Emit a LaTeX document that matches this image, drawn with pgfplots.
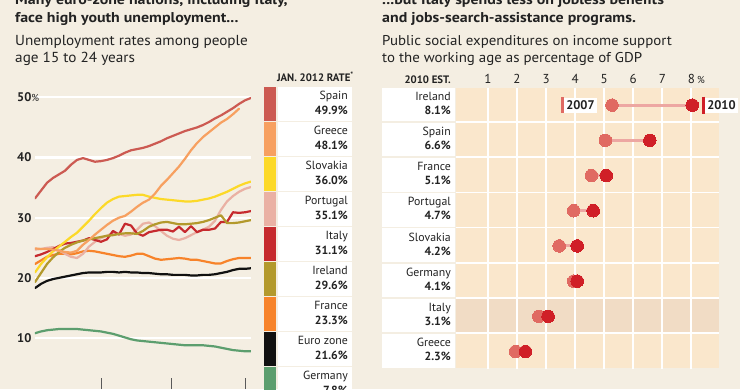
\documentclass[border=0pt]{standalone}
\usepackage{pgfplots}
\usepackage{pgfplotstable}
\pgfplotsset{compat=1.18}
\usepackage{fontspec}
\setmainfont{PT Sans}
\newfontfamily\titlefont{PT Sans}[FakeStretch=1.12]
\newfontfamily\subfont{PT Sans}[FakeStretch=1.05]
\definecolor{bg}{HTML}{F4EEE2}
\definecolor{txt}{HTML}{222222}
\definecolor{spain}{HTML}{CC5A52}
\definecolor{greece}{HTML}{F7A060}
\definecolor{slovakia}{HTML}{FCD928}
\definecolor{portugal}{HTML}{EAB1A4}
\definecolor{italy}{HTML}{C62A2E}
\definecolor{ireland}{HTML}{B3992C}
\definecolor{france}{HTML}{F7832A}
\definecolor{euro}{HTML}{111111}
\definecolor{germany}{HTML}{5C9E6E}
\definecolor{band}{HTML}{FAE7CC}
\definecolor{bandit}{HTML}{F1DCC5}
\definecolor{dA}{HTML}{E06A62}
\definecolor{dB}{HTML}{D01F27}
\definecolor{conn}{HTML}{EDA7A2}

\pgfplotstableread{
m spain greece slovakia portugal italy ireland france euro germany
0 33.2 24.9 20.9 24.7 23.6 19.3 22.3 18.3 10.8
1 34.5 24.8 22.3 24.8 23.9 20.8 22.9 19.0 11.1
2 35.8 24.8 23.4 25.0 24.3 22.3 23.5 19.5 11.3
3 36.6 24.7 24.4 25.1 24.8 23.4 23.8 19.8 11.4
4 37.2 24.5 25.2 24.6 25.3 24.3 24.0 20.0 11.5
5 37.8 24.3 26.0 24.0 25.7 25.0 24.0 20.2 11.5
6 38.8 24.2 26.8 23.5 25.8 25.5 23.9 20.4 11.5
7 39.6 24.5 27.5 23.3 26.0 25.9 24.1 20.6 11.5
8 39.9 25.5 28.5 24.0 26.2 26.2 24.4 20.8 11.4
9 39.6 26.3 29.5 25.2 26.6 26.4 24.5 20.9 11.3
10 39.3 27.2 30.6 26.0 26.3 26.6 24.4 20.9 11.2
11 39.4 28.0 31.6 26.6 26.0 26.8 24.2 20.9 11.1
12 39.6 28.8 32.5 27.0 26.4 27.0 24.0 21.0 10.9
13 39.9 29.5 33.1 27.5 27.8 27.1 23.8 21.0 10.7
14 40.3 30.0 33.5 27.3 27.2 27.3 23.6 20.9 10.4
15 40.8 30.3 33.6 27.0 29.0 27.4 23.5 21.0 10.1
16 41.2 31.0 33.7 27.2 28.7 27.4 23.7 20.9 9.8
17 41.4 31.8 33.8 28.0 27.4 27.3 24.0 20.9 9.6
18 41.6 32.5 33.8 29.0 27.0 27.8 24.0 20.8 9.5
19 41.9 33.0 33.5 29.2 27.6 28.5 23.6 20.8 9.4
20 42.3 34.0 33.3 28.6 27.8 28.9 23.2 20.7 9.3
21 42.7 35.3 33.1 27.8 28.0 29.2 23.0 20.6 9.2
22 43.2 36.3 33.0 27.0 28.0 29.3 23.1 20.6 9.1
23 43.6 37.4 32.9 26.5 27.7 29.1 23.2 20.5 9.0
24 44.0 38.5 32.8 26.3 28.5 28.9 23.3 20.5 8.9
25 44.4 39.8 32.7 26.6 27.6 28.9 23.2 20.5 8.8
26 44.7 41.2 32.7 27.1 28.6 29.0 23.0 20.4 8.8
27 45.0 42.4 32.8 27.6 27.6 29.1 23.0 20.4 8.8
28 45.4 43.4 33.0 28.0 28.0 29.3 22.8 20.5 8.8
29 45.9 44.2 33.2 28.5 28.0 29.6 22.6 20.5 8.7
30 46.5 45.0 33.5 29.5 28.2 30.0 22.4 20.6 8.6
31 47.0 45.8 33.9 31.3 29.3 30.4 22.4 20.8 8.4
32 47.6 46.4 34.3 32.7 29.3 29.1 22.8 21.0 8.2
33 48.2 47.2 34.8 33.6 30.9 29.1 23.1 21.3 8.0
34 48.9 48.1 35.3 34.3 30.8 29.2 23.3 21.5 7.9
35 49.5 nan 35.7 34.8 30.9 29.4 23.3 21.5 7.8
36 49.9 nan 36.0 35.1 31.1 29.6 23.3 21.6 7.8
}\youth

\pgfplotstableread{
row y07 y10
0 5.27 8.03
1 5.04 6.57
2 4.56 5.07
3 3.95 4.62
4 3.45 4.07
5 3.95 4.07
6 2.75 3.07
7 1.95 2.29
}\spend

\begin{document}
\begin{tikzpicture}
\useasboundingbox (0,0) rectangle (740pt,-389pt);
\clip (0,0) rectangle (740pt,-389pt);
\fill[bg] (0,0) rectangle (740pt,-389pt);
\begin{scope}[x=1pt,y=-1pt]
  % ---- titles
  \node[anchor=base west, inner sep=0, text=txt, font=\titlefont\fontsize{14.2}{15}\selectfont\bfseries] at (15,4) {Many euro-zone nations, including Italy,};
  \node[anchor=base west, inner sep=0, text=txt, font=\titlefont\fontsize{14.2}{15}\selectfont\bfseries] at (15,22.7) {face high youth unemployment...};
  \node[anchor=base west, inner sep=0, text=txt, font=\subfont\fontsize{14.5}{16}\selectfont] at (15,45.7) {Unemployment rates among people};
  \node[anchor=base west, inner sep=0, text=txt, font=\subfont\fontsize{14.5}{16}\selectfont] at (15,62.7) {age 15 to 24 years};
  \node[anchor=base west, inner sep=0, text=txt, font=\titlefont\fontsize{14.2}{15}\selectfont\bfseries] at (382,4) {...but Italy spends less on jobless benefits};
  \node[anchor=base west, inner sep=0, text=txt, font=\titlefont\fontsize{14.2}{15}\selectfont\bfseries] at (382,22.7) {and jobs-search-assistance programs.};
  \node[anchor=base west, inner sep=0, text=txt, font=\subfont\fontsize{14.2}{16}\selectfont] at (382,45.3) {Public social expenditures on income support};
  \node[anchor=base west, inner sep=0, text=txt, font=\subfont\fontsize{14.2}{16}\selectfont] at (382,62.3) {to the working age as percentage of GDP};
  % ---- left legend
  \node[anchor=base east, inner sep=0, text=txt, font=\fontsize{10.8}{11}\selectfont\bfseries] at (354,81) {JAN. 2012 RATE\textsuperscript{*}};
  \foreach \n/\v/\c [count=\i from 0] in {Spain/49.9/spain, Greece/48.1/greece, Slovakia/36.0/slovakia, Portugal/35.1/portugal, Italy/31.1/italy, Ireland/29.6/ireland, France/23.3/france, Euro zone/21.6/euro, Germany/7.8/germany} {
    \pgfmathsetmacro\t{87.3+35*\i}
    \fill[\c] (264,\t) rectangle (276,\t+33.5);
    \fill[white] (278,\t) rectangle (352,\t+33.5);
    \node[anchor=base east, inner sep=0, text=txt, font=\fontsize{11.8}{12}\selectfont] at (348,\t+12.3) {\n};
    \node[anchor=base east, inner sep=0, text=txt, font=\fontsize{11.8}{12}\selectfont\bfseries] at (348,\t+27) {\v\%};
  }
  % ---- right panel backgrounds and labels
  \node[anchor=base east, inner sep=0, text=txt, font=\fontsize{10.8}{11}\selectfont\bfseries] at (451,83) {2010 EST.};
  \fill[white] (456,87.5) rectangle (719,368);
  \foreach \n/\v/\c [count=\i from 0] in {Ireland/8.1/band, Spain/6.6/band, France/5.1/band, Portugal/4.7/band, Slovakia/4.2/band, Germany/4.1/band, Italy/3.1/bandit, Greece/2.3/band} {
    \pgfmathsetmacro\t{87.5+35.2*\i}
    \fill[white] (382,\t) rectangle (455,\t+33.6);
    \fill[\c] (456,\t) rectangle (719,\t+33.6);
    \node[anchor=base east, inner sep=0, text=txt, font=\fontsize{11.8}{12}\selectfont] at (451,\t+12.8) {\n};
    \node[anchor=base east, inner sep=0, text=txt, font=\fontsize{11.8}{12}\selectfont\bfseries] at (451,\t+26.8) {\v\%};
  }
\end{scope}

% ---- left line chart
\begin{axis}[at={(35pt,-85.3pt)}, anchor=north west, scale only axis,
  width=216pt, height=303.9pt,
  xmin=0, xmax=36, ymin=1.5, ymax=52,
  axis x line*=bottom, axis y line*=left, axis line style={draw=none},
  xtick={11,22.8,35}, xticklabels={}, xtick style={draw=black!65, line width=0.7pt},
  major tick length=11pt, tick align=inside,
  ytick={10,20,30,40,50}, yticklabels={10,20,30,40,{50{\mdseries\fontsize{10}{10}\selectfont\%}}},
  ytick style={draw=none},
  ymajorgrids, major grid style={white, line width=2.2pt},
  yticklabel style={anchor=west, xshift=-18pt, inner sep=0pt, text=txt, font=\fontsize{12.5}{12}\selectfont\bfseries},
  every axis plot/.append style={line width=2.2pt, line join=round, line cap=round},
]
\addplot[germany] table[x=m, y=germany] {\youth};
\addplot[euro] table[x=m, y=euro] {\youth};
\addplot[france] table[x=m, y=france] {\youth};
\addplot[portugal] table[x=m, y=portugal] {\youth};
\addplot[italy] table[x=m, y=italy] {\youth};
\addplot[ireland] table[x=m, y=ireland] {\youth};
\addplot[slovakia] table[x=m, y=slovakia] {\youth};
\addplot[greece] table[x=m, y=greece] {\youth};
\addplot[spain] table[x=m, y=spain] {\youth};
\end{axis}

% ---- right dumbbell chart
\begin{axis}[at={(456pt,-87.5pt)}, anchor=north west, scale only axis,
  width=263pt, height=281.6pt,
  xmin=-0.1, xmax=8.95, ymin=-0.5, ymax=7.5, y dir=reverse,
  axis line style={draw=none}, tick style={draw=none}, major tick length=0pt,
  xtick={1,...,8}, xticklabel pos=upper,
  xticklabels={1,2,3,4,5,6,7,{8\rlap{\,\fontsize{10}{10}\selectfont\%}}},
  xticklabel style={anchor=base, yshift=4.5pt, text=txt, font=\fontsize{13}{13}\selectfont},
  ytick=\empty,
  xmajorgrids, major grid style={white, line width=1.8pt},
  clip=false,
]
\addplot[conn, line width=3pt] coordinates {(5.27,0) (8.03,0)};
\addplot[conn, line width=3pt] coordinates {(5.04,1) (6.57,1)};
\addplot[conn, line width=3pt] coordinates {(4.56,2) (5.07,2)};
\addplot[conn, line width=3pt] coordinates {(3.95,3) (4.62,3)};
\addplot[conn, line width=3pt] coordinates {(3.45,4) (4.07,4)};
\addplot[conn, line width=3pt] coordinates {(3.95,5) (4.07,5)};
\addplot[conn, line width=3pt] coordinates {(2.75,6) (3.07,6)};
\addplot[conn, line width=3pt] coordinates {(1.95,7) (2.29,7)};
\addplot[dA, only marks, mark=*, mark size=6.3pt, mark options={fill=dA, draw=dA, line width=0pt}] table[x=y07, y=row] {\spend};
\addplot[dB, only marks, mark=*, mark size=6.3pt, mark options={fill=dB, draw=dB, line width=0pt}] table[x=y10, y=row] {\spend};
\draw[dA, line width=2.4pt] (axis cs:3.56,-0.22) -- (axis cs:3.56,0.22);
\node[fill=white, anchor=west, inner xsep=2pt, inner ysep=3pt, text=txt, font=\fontsize{12.5}{13}\selectfont\bfseries] at (axis cs:3.62,0) {2007};
\draw[dB, line width=2.6pt] (axis cs:8.41,-0.24) -- (axis cs:8.41,0.24);
\node[fill=white, anchor=west, inner xsep=2pt, inner ysep=3pt, text=txt, font=\fontsize{12.5}{13}\selectfont\bfseries] at (axis cs:8.47,0) {2010};
\end{axis}
\end{tikzpicture}
\end{document}
